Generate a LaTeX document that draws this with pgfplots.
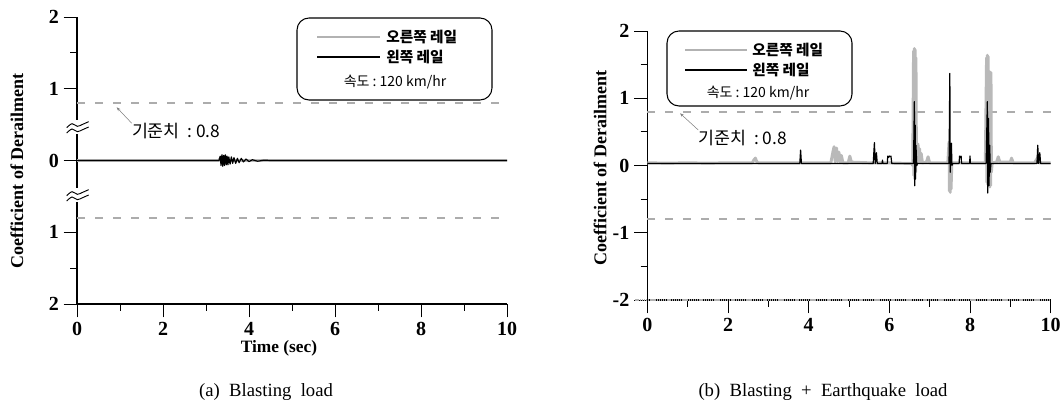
\documentclass[border=0pt]{standalone}
\usepackage{pgfplots}
\pgfplotsset{compat=1.18}
\usepackage{fontspec}
\setmainfont{Liberation Serif}
\newfontfamily\kr{Noto Sans CJK KR}
\usetikzlibrary{arrows.meta}

\pgfplotstableread{
t v
0 0
3.30 0
3.33 0.06
3.35 -0.07
3.37 0.08
3.39 -0.08
3.41 0.07
3.43 -0.07
3.45 0.08
3.47 -0.06
3.49 0.06
3.51 -0.06
3.53 0.05
3.56 -0.05
3.59 0.05
3.62 -0.04
3.65 0.04
3.69 -0.04
3.73 0.03
3.77 -0.03
3.82 0.03
3.87 -0.02
3.93 0.02
4.00 -0.015
4.08 0.01
4.20 -0.01
4.35 0.005
4.50 0
10 0
}\leftA

\pgfplotstableread{
t v
0 0
3.30 0
3.34 0.03
3.38 -0.03
3.42 0.03
3.46 -0.02
3.50 0
10 0
}\rightA

\pgfplotstableread{
t v
0 0.04
0.5 0.035
1.0 0.04
1.5 0.035
2.0 0.04
2.6 0.04
2.65 0.09
2.68 0.11
2.71 0.06
2.75 0.04
3.5 0.04
4.55 0.04
4.6 0.2
4.63 0.28
4.66 0.05
4.69 0.26
4.72 0.06
4.75 0.2
4.78 0.05
4.81 0.15
4.85 0.04
4.98 0.04
5.02 0.14
5.06 0.05
5.5 0.04
5.9 0.04
6.55 0.03
6.58 0.0
6.60 1.70
6.61 -0.15
6.62 1.74
6.63 -0.2
6.64 1.72
6.65 -0.1
6.66 1.6
6.67 0.3
6.69 0.05
6.71 0.32
6.73 0.05
6.75 0.25
6.77 0.05
6.79 0.18
6.82 0.04
6.92 0.05
6.96 0.13
7.00 0.04
7.45 0.04
7.48 0.35
7.49 -0.38
7.50 0.3
7.51 -0.4
7.52 0.25
7.53 -0.35
7.55 0.04
7.70 0.04
8.38 0.04
8.41 1.6
8.42 -0.25
8.43 1.64
8.44 -0.28
8.45 1.62
8.46 -0.2
8.48 1.4
8.49 -0.32
8.50 1.39
8.51 -0.3
8.52 1.38
8.53 -0.1
8.55 0.04
8.66 0.05
8.70 0.13
8.74 0.05
9.00 0.05
9.03 0.11
9.07 0.04
9.60 0.04
9.68 0.12
9.72 0.04
10 0.04
}\rightB

\pgfplotstableread{
t v
0 0.03
3.78 0.03
3.80 0.23
3.82 0.03
5.60 0.03
5.63 0.34
5.65 0.03
5.68 0.19
5.70 0.03
5.82 0.03
5.83 0.08
5.84 0.03
5.95 0.03
5.96 0.14
5.98 0.12
6.00 0.14
6.02 0.13
6.04 0.14
6.06 0.03
6.60 0.03
6.62 0.95
6.63 -0.30
6.64 0.6
6.65 -0.2
6.66 0.3
6.68 0.0
6.70 0.03
7.48 0.03
7.50 1.37
7.51 -0.1
7.52 0.2
7.54 0.33
7.55 0.0
7.57 0.03
7.73 0.03
7.74 0.14
7.76 0.12
7.78 0.14
7.79 0.03
7.99 0.03
8.00 0.14
8.01 0.03
8.40 0.03
8.43 0.95
8.44 -0.41
8.46 0.7
8.47 -0.3
8.49 0.3
8.50 -0.1
8.52 0.03
9.66 0.03
9.68 0.30
9.70 0.03
9.73 0.19
9.75 0.03
10 0.03
}\leftB

\pgfplotstableread{
t v
0 0.8
10 0.8
}\thrU
\pgfplotstableread{
t v
0 -0.8
10 -0.8
}\thrL

\pgfplotsset{
  mystyle/.style={
    scale only axis, anchor=south west,
    axis x line*=bottom, axis y line*=left,
    xmin=0,xmax=10,ymin=-2,ymax=2,
    xtick={0,2,...,10}, minor xtick={1,3,...,9},
    ytick={-2,-1,0,1,2}, minor ytick={-1.5,-0.5,0.5,1.5},
    tick align=outside, major tick length=10pt, minor tick length=5pt,
    tick style={black, line width=0.6pt},
    axis line style={line width=0.8pt},
    /pgf/number format/assume math mode=true,
    tick label style={font=\fontsize{15}{16}\selectfont\bfseries},
    clip=false,
  },
  thr/.style={gray!65, line width=1.7pt, dash pattern=on 6pt off 7.5pt},
  grayrail/.style={gray!55, line width=2.2pt, line join=round},
  blackrail/.style={black, line width=0.9pt, line join=round},
}

\begin{document}
\begin{tikzpicture}
% ---------- left panel ----------
\begin{axis}[mystyle, at={(57.75pt,74.25pt)}, width=322.5pt, height=215.25pt,
  yticklabels={2,1,0,1,2}]
\addplot[thr] table[x=t,y=v] {\thrU};
\addplot[thr] table[x=t,y=v] {\thrL};
\addplot[grayrail] table[x=t,y=v] {\rightA};
\addplot[blackrail] table[x=t,y=v] {\leftA};
\end{axis}
% ---------- right panel ----------
\begin{axis}[mystyle, at={(485.5pt,77.25pt)}, width=302.5pt, height=201.75pt,
  yticklabels={-2,-1,0,1,2}]
\addplot[thr] table[x=t,y=v] {\thrU};
\addplot[thr] table[x=t,y=v] {\thrL};
\addplot[gray!60, line width=1.6pt, dash pattern=on 1pt off 0.6pt] coordinates {(-0.3,-2) (10,-2)};
\addplot[grayrail] table[x=t,y=v] {\rightB};
\addplot[blackrail] table[x=t,y=v] {\leftB};
\end{axis}

% axis breaks (left panel)
\foreach \yy in {207,156}{
  \fill[white] (51pt,\yy pt-5.5pt) rectangle (66pt,\yy pt+5.5pt);
  \draw[line width=0.7pt] plot[smooth] coordinates {(50pt,\yy pt-0.5pt) (54pt,\yy pt+2.5pt) (58pt,\yy pt+0.5pt) (62pt,\yy pt+2pt) (66.5pt,\yy pt+4pt)};
  \draw[line width=0.7pt] plot[smooth] coordinates {(50pt,\yy pt-4.5pt) (54pt,\yy pt-1.5pt) (58pt,\yy pt-3.5pt) (62pt,\yy pt-2pt) (66.5pt,\yy pt)};
}

% axis titles
\node[rotate=90, font=\fontsize{13.5}{14}\selectfont\bfseries] at (12.75pt,174pt) {Coefficient of Derailment};
\node[rotate=90, font=\fontsize{13.5}{14}\selectfont\bfseries] at (450pt,176pt) {Coefficient of Derailment};
\node[font=\fontsize{13}{14}\selectfont\bfseries] at (209.25pt,41pt) {Time (sec)};

% captions
\node[font=\fontsize{14}{16}\selectfont] at (199.5pt,8.5pt) {(a)\ \ Blasting\ \ load};
\node[font=\fontsize{14}{16}\selectfont] at (617.25pt,8.5pt) {(b)\ \ Blasting\ \ +\ \ Earthquake\ \ load};

% legend left
\draw[line width=0.8pt, rounded corners=9pt] (222.75pt,227.25pt) rectangle (369pt,288.75pt);
\draw[gray!60, line width=2.2pt] (237.75pt,274.5pt) -- (285pt,274.5pt);
\node[anchor=west, font=\kr\fontsize{11}{12}\selectfont\bfseries, inner sep=0pt] at (289.5pt,274.5pt) {오른쪽\ 레일};
\draw[black, line width=1pt] (237.75pt,259.5pt) -- (285pt,259.5pt);
\node[anchor=west, font=\kr\fontsize{11}{12}\selectfont\bfseries, inner sep=0pt] at (289.5pt,259.5pt) {왼쪽\ 레일};
\node[font=\kr\fontsize{10.5}{11}\selectfont, inner sep=0pt] at (296.25pt,240.75pt) {속도\ :\ 120 km/hr};

% legend right
\draw[line width=0.8pt, rounded corners=9pt] (500.25pt,222.75pt) rectangle (639pt,279pt);
\draw[gray!60, line width=2.2pt] (513.75pt,264.75pt) -- (560.25pt,264.75pt);
\node[anchor=west, font=\kr\fontsize{11}{12}\selectfont\bfseries, inner sep=0pt] at (564pt,264.75pt) {오른쪽\ 레일};
\draw[black, line width=1pt] (513.75pt,249.75pt) -- (560.25pt,249.75pt);
\node[anchor=west, font=\kr\fontsize{11}{12}\selectfont\bfseries, inner sep=0pt] at (564pt,249.75pt) {왼쪽\ 레일};
\node[font=\kr\fontsize{10.5}{11}\selectfont, inner sep=0pt] at (568.5pt,232.5pt) {속도\ :\ 120 km/hr};

% annotations
\draw[gray, line width=0.4pt, -{Stealth[length=3pt]}] (98.8pt,209.8pt) -- (87.5pt,221.75pt);
\node[anchor=west, font=\kr\fontsize{13}{14}\selectfont, inner sep=0pt] at (98.8pt,204.2pt) {기준치\ \ :\ 0.8};
\draw[gray, line width=0.4pt, -{Stealth[length=3pt]}] (523.7pt,204.75pt) -- (510pt,217.3pt);
\node[anchor=west, font=\kr\fontsize{13}{14}\selectfont, inner sep=0pt] at (523.7pt,198.5pt) {기준치\ \ :\ 0.8};

\pgfresetboundingbox
\path[use as bounding box] (0pt,0pt) rectangle (797.25pt,302.25pt);
\end{tikzpicture}
\end{document}
